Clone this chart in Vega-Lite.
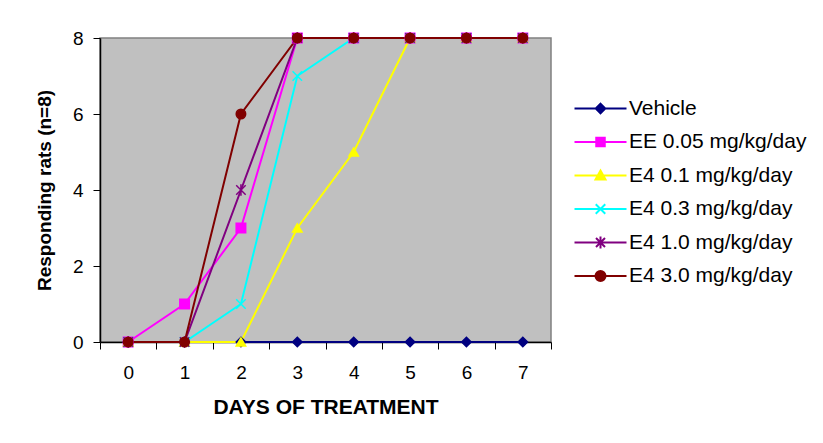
{
  "$schema": "https://vega.github.io/schema/vega-lite/v6.json",
  "autosize": {"type": "none"},
  "width": 451,
  "height": 304,
  "padding": {"left": 100, "top": 38, "right": 272, "bottom": 101},
  "background": "white",
  "config": {
    "font": "Liberation Sans",
    "view": {"fill": "#C0C0C0", "stroke": "#808080", "strokeWidth": 1.5}
  },
  "data": {
    "values": [
      {"day": 0, "group": "Vehicle", "n": 0}, {"day": 1, "group": "Vehicle", "n": 0}, {"day": 2, "group": "Vehicle", "n": 0}, {"day": 3, "group": "Vehicle", "n": 0},
      {"day": 4, "group": "Vehicle", "n": 0}, {"day": 5, "group": "Vehicle", "n": 0}, {"day": 6, "group": "Vehicle", "n": 0}, {"day": 7, "group": "Vehicle", "n": 0},
      {"day": 0, "group": "EE 0.05 mg/kg/day", "n": 0}, {"day": 1, "group": "EE 0.05 mg/kg/day", "n": 1}, {"day": 2, "group": "EE 0.05 mg/kg/day", "n": 3}, {"day": 3, "group": "EE 0.05 mg/kg/day", "n": 8},
      {"day": 4, "group": "EE 0.05 mg/kg/day", "n": 8}, {"day": 5, "group": "EE 0.05 mg/kg/day", "n": 8}, {"day": 6, "group": "EE 0.05 mg/kg/day", "n": 8}, {"day": 7, "group": "EE 0.05 mg/kg/day", "n": 8},
      {"day": 0, "group": "E4 0.1 mg/kg/day", "n": 0}, {"day": 1, "group": "E4 0.1 mg/kg/day", "n": 0}, {"day": 2, "group": "E4 0.1 mg/kg/day", "n": 0}, {"day": 3, "group": "E4 0.1 mg/kg/day", "n": 3},
      {"day": 4, "group": "E4 0.1 mg/kg/day", "n": 5}, {"day": 5, "group": "E4 0.1 mg/kg/day", "n": 8}, {"day": 6, "group": "E4 0.1 mg/kg/day", "n": 8}, {"day": 7, "group": "E4 0.1 mg/kg/day", "n": 8},
      {"day": 0, "group": "E4 0.3 mg/kg/day", "n": 0}, {"day": 1, "group": "E4 0.3 mg/kg/day", "n": 0}, {"day": 2, "group": "E4 0.3 mg/kg/day", "n": 1}, {"day": 3, "group": "E4 0.3 mg/kg/day", "n": 7},
      {"day": 4, "group": "E4 0.3 mg/kg/day", "n": 8}, {"day": 5, "group": "E4 0.3 mg/kg/day", "n": 8}, {"day": 6, "group": "E4 0.3 mg/kg/day", "n": 8}, {"day": 7, "group": "E4 0.3 mg/kg/day", "n": 8},
      {"day": 0, "group": "E4 1.0 mg/kg/day", "n": 0}, {"day": 1, "group": "E4 1.0 mg/kg/day", "n": 0}, {"day": 2, "group": "E4 1.0 mg/kg/day", "n": 4}, {"day": 3, "group": "E4 1.0 mg/kg/day", "n": 8},
      {"day": 4, "group": "E4 1.0 mg/kg/day", "n": 8}, {"day": 5, "group": "E4 1.0 mg/kg/day", "n": 8}, {"day": 6, "group": "E4 1.0 mg/kg/day", "n": 8}, {"day": 7, "group": "E4 1.0 mg/kg/day", "n": 8},
      {"day": 0, "group": "E4 3.0 mg/kg/day", "n": 0}, {"day": 1, "group": "E4 3.0 mg/kg/day", "n": 0}, {"day": 2, "group": "E4 3.0 mg/kg/day", "n": 6}, {"day": 3, "group": "E4 3.0 mg/kg/day", "n": 8},
      {"day": 4, "group": "E4 3.0 mg/kg/day", "n": 8}, {"day": 5, "group": "E4 3.0 mg/kg/day", "n": 8}, {"day": 6, "group": "E4 3.0 mg/kg/day", "n": 8}, {"day": 7, "group": "E4 3.0 mg/kg/day", "n": 8}
    ]
  },
  "encoding": {
    "x": {
      "field": "day", "type": "ordinal",
      "scale": {"type": "band", "paddingInner": 0, "paddingOuter": 0},
      "axis": {
        "title": "DAYS OF TREATMENT", "titleFontSize": 21, "titleFontWeight": "bold", "titleColor": "black", "titlePadding": 14,
        "labelAngle": 0, "labelFontSize": 19, "labelColor": "black", "labelPadding": 14,
        "tickBand": "extent", "tickSize": 7, "tickColor": "black", "domainColor": "black", "domainWidth": 1.5, "grid": false
      }
    },
    "y": {
      "field": "n", "type": "quantitative",
      "scale": {"domain": [0, 8], "nice": false},
      "axis": {
        "title": "Responding rats (n=8)", "titleFontSize": 19, "titleFontWeight": "bold", "titleColor": "black", "titlePadding": 18,
        "values": [0, 2, 4, 6, 8], "labelFontSize": 19, "labelColor": "black", "labelPadding": 10,
        "tickSize": 7, "tickColor": "black", "domainColor": "black", "domainWidth": 1.5, "grid": false
      }
    }
  },
  "layer": [
    {
      "mark": {"type": "line", "strokeWidth": 2},
      "encoding": {
        "color": {
          "field": "group", "type": "nominal",
          "scale": {
            "domain": ["Vehicle", "EE 0.05 mg/kg/day", "E4 0.1 mg/kg/day", "E4 0.3 mg/kg/day", "E4 1.0 mg/kg/day", "E4 3.0 mg/kg/day"],
            "range": ["#000080", "#FF00FF", "#FFFF00", "#00FFFF", "#800080", "#800000"]
          },
          "legend": null
        }
      }
    },
    {
      "mark": {"type": "point", "size": 90, "opacity": 1, "strokeWidth": 1.5},
      "encoding": {
        "shape": {
          "field": "group", "type": "nominal",
          "scale": {
            "domain": ["Vehicle", "EE 0.05 mg/kg/day", "E4 0.1 mg/kg/day", "E4 0.3 mg/kg/day", "E4 1.0 mg/kg/day", "E4 3.0 mg/kg/day"],
            "range": ["diamond", "square", "triangle-up", "M-1,-1L1,1M-1,1L1,-1", "M-1,-1L1,1M-1,1L1,-1M0,-1.2L0,1.2", "circle"]
          },
          "legend": null
        },
        "fill": {
          "field": "group", "type": "nominal",
          "scale": {
            "domain": ["Vehicle", "EE 0.05 mg/kg/day", "E4 0.1 mg/kg/day", "E4 0.3 mg/kg/day", "E4 1.0 mg/kg/day", "E4 3.0 mg/kg/day"],
            "range": ["#000080", "#FF00FF", "#FFFF00", "transparent", "transparent", "#800000"]
          },
          "legend": null
        },
        "stroke": {
          "field": "group", "type": "nominal",
          "scale": {
            "domain": ["Vehicle", "EE 0.05 mg/kg/day", "E4 0.1 mg/kg/day", "E4 0.3 mg/kg/day", "E4 1.0 mg/kg/day", "E4 3.0 mg/kg/day"],
            "range": ["#000080", "#FF00FF", "#FFFF00", "#00FFFF", "#800080", "#800000"]
          },
          "legend": null
        }
      }
    },
    {
      "transform": [{"filter": "false"}],
      "mark": {"type": "point", "size": 100, "opacity": 1, "strokeWidth": 2},
      "encoding": {
        "shape": {
          "field": "group", "type": "nominal",
          "scale": {
            "domain": ["Vehicle", "EE 0.05 mg/kg/day", "E4 0.1 mg/kg/day", "E4 0.3 mg/kg/day", "E4 1.0 mg/kg/day", "E4 3.0 mg/kg/day"],
            "range": [
              "M-5.2,0H5.2M0,-0.95L0.95,0L0,0.95L-0.95,0Z",
              "M-5.2,0H5.2M-0.85,-0.85H0.85V0.85H-0.85Z",
              "M-5.2,0H5.2M0,-1L1,0.8H-1Z",
              "M-5.2,0H5.2M-0.95,-0.95L0.95,0.95M-0.95,0.95L0.95,-0.95",
              "M-5.2,0H5.2M-0.9,-0.9L0.9,0.9M-0.9,0.9L0.9,-0.9M0,-1.2V1.2",
              "M-5.2,0H5.2M1,0A1,1,0,1,1,-1,0A1,1,0,1,1,1,0Z"
            ]
          },
          "legend": {
            "orient": "none", "legendX": 490, "legendY": 60, "title": null,
            "symbolSize": 100, "symbolStrokeWidth": 2, "symbolOpacity": 1,
            "labelFontSize": 21, "labelColor": "black", "labelOffset": 18, "labelLimit": 400, "rowPadding": 11.5, "padding": 0
          }
        },
        "fill": {
          "field": "group", "type": "nominal",
          "scale": {
            "domain": ["Vehicle", "EE 0.05 mg/kg/day", "E4 0.1 mg/kg/day", "E4 0.3 mg/kg/day", "E4 1.0 mg/kg/day", "E4 3.0 mg/kg/day"],
            "range": ["#000080", "#FF00FF", "#FFFF00", "transparent", "transparent", "#800000"]
          }
        },
        "stroke": {
          "field": "group", "type": "nominal",
          "scale": {
            "domain": ["Vehicle", "EE 0.05 mg/kg/day", "E4 0.1 mg/kg/day", "E4 0.3 mg/kg/day", "E4 1.0 mg/kg/day", "E4 3.0 mg/kg/day"],
            "range": ["#000080", "#FF00FF", "#FFFF00", "#00FFFF", "#800080", "#800000"]
          }
        }
      }
    }
  ],
  "resolve": {"scale": {"shape": "independent", "fill": "independent", "stroke": "independent"}}
}
